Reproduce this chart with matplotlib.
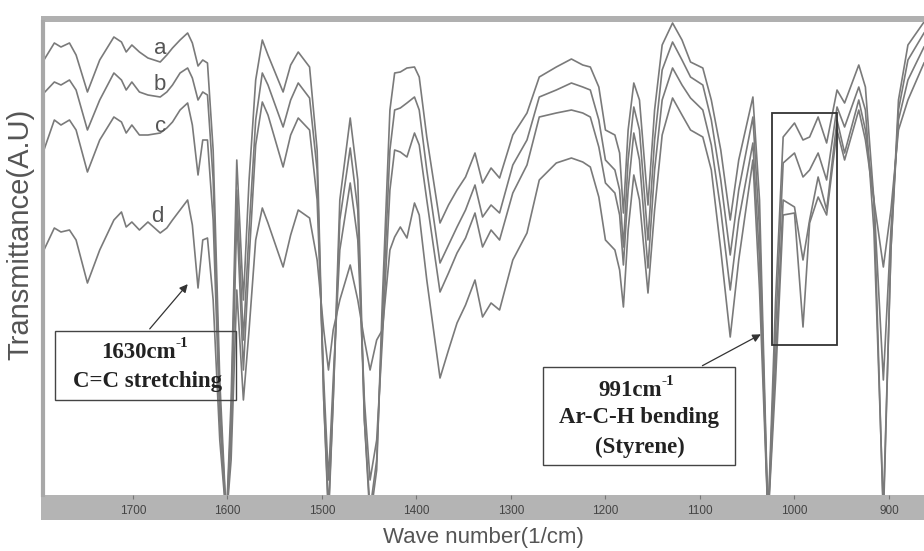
import matplotlib
matplotlib.use("Agg")
import matplotlib.pyplot as plt
from matplotlib.patches import Rectangle

plt.rcParams['font.family'] = ['Liberation Sans', 'DejaVu Sans']

# wave numbers (1/cm) and transmittance (arbitrary units)
wn = [1794, 1783, 1776, 1767, 1760, 1748, 1735, 1720, 1712, 1707, 1701, 1693,
      1684, 1671, 1664, 1658, 1650, 1642, 1637, 1631, 1626, 1621, 1615, 1608,
      1601, 1596, 1590, 1583, 1577, 1570, 1563, 1557, 1541, 1533, 1525, 1513,
      1505, 1498, 1493, 1488, 1481, 1470, 1462, 1455, 1449, 1442, 1436, 1428,
      1423, 1417, 1410, 1402, 1397, 1389, 1375, 1366, 1357, 1348, 1338, 1330,
      1321, 1312, 1298, 1283, 1270, 1252, 1236, 1224, 1216, 1207, 1200, 1190,
      1185, 1181, 1176, 1170, 1164, 1155, 1148, 1140, 1129, 1119, 1110, 1097,
      1088, 1078, 1068, 1059, 1044, 1037, 1028, 1020, 1012, 1000, 991, 984,
      975, 966, 955, 947, 932, 925, 916, 906, 898, 890, 880, 863]

curve_a = [435, 452, 448, 452, 440, 403, 435, 458, 453, 443, 450, 443,
           437, 433, 440, 447, 455, 462, 452, 429, 435, 432, 345, 115,
           -25, 95, 335, 195, 315, 415, 455, 440, 403, 430, 443, 428,
           345, 95, -25, 95, 295, 377, 315, 75, -25, 25, 195, 385,
           422, 423, 427, 428, 418, 358, 272, 290, 305, 318, 342, 312,
           327, 317, 360, 382, 418, 428, 436, 430, 428, 408, 365, 360,
           342, 282, 365, 412, 395, 290, 385, 450, 472, 455, 433, 427,
           395, 345, 275, 335, 398, 295, -25, 195, 358, 372, 355, 358,
           378, 352, 405, 392, 430, 408, 295, -25, 245, 395, 450, 473]

curve_b = [402, 413, 410, 415, 405, 365, 395, 422, 415, 405, 413, 403,
           400, 398, 403, 410, 422, 427, 417, 395, 403, 400, 315, 95,
           -25, 75, 305, 155, 265, 375, 422, 410, 368, 395, 412, 397,
           325, 95, -15, 95, 275, 347, 285, 75, -15, 35, 175, 345,
           385, 387, 392, 398, 385, 325, 232, 250, 268, 285, 310, 278,
           290, 282, 330, 355, 398, 405, 412, 408, 405, 375, 335, 325,
           305, 248, 335, 388, 365, 255, 355, 425, 453, 435, 418, 410,
           375, 315, 240, 305, 378, 265, -25, 165, 332, 342, 318, 325,
           342, 315, 388, 368, 408, 385, 265, -15, 245, 385, 435, 462]

curve_c = [345, 375, 370, 375, 365, 323, 355, 378, 373, 362, 370, 360,
           360, 362, 367, 373, 385, 392, 370, 320, 355, 355, 275, 75,
           -25, 55, 280, 125, 235, 350, 393, 380, 328, 360, 377, 365,
           295, 115, 15, 115, 245, 312, 255, 95, 15, 55, 155, 305,
           345, 343, 338, 362, 350, 295, 203, 222, 242, 257, 282, 248,
           265, 255, 302, 330, 378, 382, 385, 382, 378, 348, 312, 302,
           280, 230, 305, 362, 335, 227, 325, 395, 427, 410, 397, 385,
           350, 285, 205, 275, 352, 235, -25, 135, 295, 288, 235, 275,
           318, 285, 375, 342, 395, 365, 295, 115, 265, 375, 415, 448]

curve_d = [245, 267, 263, 265, 255, 212, 245, 275, 283, 268, 273, 265,
           273, 262, 267, 275, 285, 295, 270, 207, 255, 257, 195, 55,
           -25, 35, 205, 95, 165, 255, 287, 272, 228, 260, 285, 277,
           235, 165, 125, 165, 195, 230, 195, 155, 125, 155, 165, 245,
           258, 268, 257, 292, 280, 215, 117, 145, 172, 190, 215, 178,
           192, 185, 235, 262, 315, 332, 337, 333, 328, 298, 255, 245,
           225, 188, 265, 320, 295, 202, 285, 360, 397, 380, 365, 358,
           325, 245, 158, 235, 335, 205, -25, 115, 280, 282, 168, 272,
           298, 280, 365, 335, 385, 355, 295, 228, 285, 365, 395, 432]

curve_names = ['a', 'b', 'c', 'd']
xticks = [1700, 1600, 1500, 1400, 1300, 1200, 1100, 1000, 900]

fig = plt.figure(figsize=(9.24, 5.51), dpi=100)
ax = fig.add_axes([43 / 924, 1 - 495 / 551, 881 / 924, 473 / 551])

for ys in [curve_a, curve_b, curve_c, curve_d]:
    ax.plot(wn, ys, color='#7a7a7a', linewidth=1.2)

ax.set_xlim(1795, 863)
ax.set_ylim(0, 473)
ax.set_yticks([])
ax.set_xticks(xticks)
ax.tick_params(axis='x', direction='out', length=3, width=0.8, color='#777777',
               pad=4, labelsize=8.5, labelcolor='#444444')

for s in ['top', 'right', 'bottom']:
    ax.spines[s].set_visible(False)
ax.spines['left'].set_color('#a8a8a8')
ax.spines['left'].set_linewidth(3)

# gray frame bands
ax.add_patch(Rectangle((-2 / 881, -25 / 473), 1.1, 25 / 473, transform=ax.transAxes,
                       facecolor='#b4b4b4', edgecolor='none', clip_on=False, zorder=0.5))
ax.add_patch(Rectangle((-2 / 881, 1.0), 1.1, 6 / 473, transform=ax.transAxes,
                       facecolor='#b0b0b0', edgecolor='none', clip_on=False, zorder=0.5))

# curve labels
label_pos = [(1671, 447), (1671, 410), (1671, 368), (1674, 278)]
for name, (lx, ly) in zip(curve_names, label_pos):
    ax.text(lx, ly, name, fontsize=16, color='#555555', ha='center', va='center')

# annotation boxes
ax.add_patch(Rectangle((1782.5, 95), 1591 - 1782.5, 69, facecolor='none',
                       edgecolor='#444444', linewidth=1.0, zorder=3))
ax.add_patch(Rectangle((1266, 30), 1063 - 1266, 98, facecolor='white',
                       edgecolor='#444444', linewidth=1.0, zorder=3))
ax.add_patch(Rectangle((1024, 150), 955 - 1024, 232, facecolor='none',
                       edgecolor='#333333', linewidth=1.3, zorder=3))

serif = ['Liberation Serif', 'DejaVu Serif']
tkw = dict(family=serif, fontweight='bold', fontsize=16.5, color='#222222', zorder=4)


def wavenumber_label(x, y, s):
    t = ax.text(x, y, s, ha='center', va='center', **tkw)
    ax.annotate('-1', xy=(1.0, 0.9), xycoords=t, xytext=(0, 0),
                textcoords='offset points', ha='left', va='center',
                family=serif, fontweight='bold', fontsize=11, color='#222222',
                zorder=4)


wavenumber_label(1694, 143, '1630cm')
ax.text(1684, 114, 'C=C stretching', ha='center', va='center', **tkw)
wavenumber_label(1174, 105, '991cm')
ax.text(1164, 77, 'Ar-C-H bending', ha='center', va='center', **tkw)
ax.text(1164, 48, '(Styrene)', ha='center', va='center', **tkw)

arrow = dict(arrowstyle='-|>', color='#333333', linewidth=0.9, mutation_scale=12)
ax.annotate('', xy=(1640, 213), xytext=(1684, 164), arrowprops=arrow, zorder=4)
ax.annotate('', xy=(1033, 162), xytext=(1100, 128), arrowprops=arrow, zorder=4)

fig.text(483 / 924, 1 - 538 / 551, 'Wave number(1/cm)', fontsize=16,
         color='#555555', ha='center', va='center')
fig.text(20 / 924, 1 - 234 / 551, 'Transmittance(A.U)', fontsize=21,
         color='#555555', ha='center', va='center', rotation=90)

fig.savefig('out.png', dpi=100)
